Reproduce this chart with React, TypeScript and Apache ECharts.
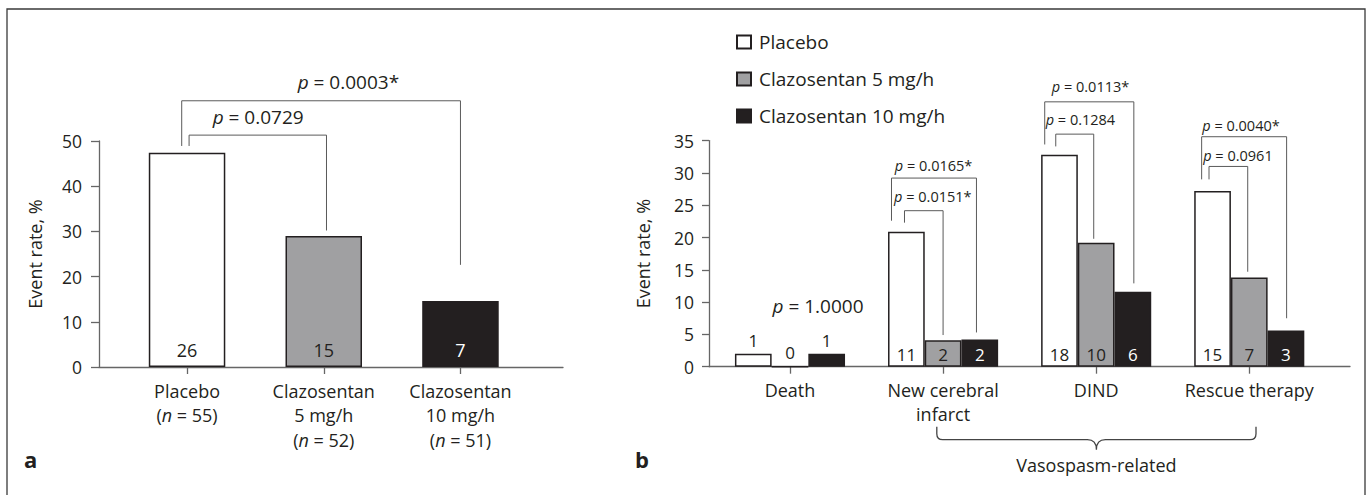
import React, { useEffect, useRef } from 'react';
import * as echarts from 'echarts';

// ---------- data ----------
const leftCategories = ['Placebo', 'Clazosentan\n5 mg/h', 'Clazosentan\n10 mg/h'];
const leftN = [55, 52, 51];
const leftValues = [47.4, 29.0, 14.6];
const leftCounts = [26, 15, 7];

const rightCategories = ['Death', 'New cerebral\ninfarct', 'DIND', 'Rescue therapy'];
const seriesNames = ['Placebo', 'Clazosentan 5 mg/h', 'Clazosentan 10 mg/h'];
const placeboValues = [2.0, 20.9, 32.8, 27.2];
const c5Values = [0, 4.1, 19.2, 13.8];
const c10Values = [2.0, 4.2, 11.6, 5.6];
const placeboCounts = [1, 11, 18, 15];
const c5Counts = [0, 2, 10, 7];
const c10Counts = [1, 2, 6, 3];

// brackets: [group, x1 offset, x2 offset, top, left-leg bottom, right-leg bottom] (data units)
const leftBrackets = [
  [0, 0.015, 1.02, 51.3, 48.9, 30.2],
  [0, -0.039, 2.0, 58.9, 48.9, 22.6],
];
// p labels: [x, y, p-value text]
const leftPLabels: [number, number, string][] = [
  [0.52, 55.3, '0.0729'],
  [1.18, 63.1, '0.0003*'],
];
const rightBrackets = [
  [1, -0.252, 0.0, 24.15, 22.3, 4.9],
  [1, -0.337, 0.218, 29.2, 22.6, 5.3],
  [2, -0.264, -0.016, 36.0, 34.1, 19.8],
  [2, -0.336, 0.246, 41.0, 34.4, 12.9],
  [3, -0.263, -0.01, 31.0, 29.0, 14.7],
  [3, -0.311, 0.244, 35.6, 29.0, 7.5],
];
const rightPLabels: [number, number, string][] = [
  [0.933, 26.3, '0.0151*'],
  [0.938, 31.2, '0.0165*'],
  [1.897, 38.3, '0.1284'],
  [1.963, 43.3, '0.0113*'],
  [2.926, 32.7, '0.0961'],
  [2.946, 37.3, '0.0040*'],
];
const deathPLabel: [number, number, string] = [0.183, 9.4, '1.0000'];
const vasospasmGroups = [1, 3];
const vasospasmCaption = 'Vasospasm-related';

// ---------- styles ----------
const FONT = 'Open Sans';
const INK = '#231f20';
const GRAY = '#a0a0a2';
const AXIS = '#666666';
const LINE = '#5a5a5a';

function pText(p: string, size: number) {
  return {
    text: `{i|p}{n| = ${p}}`,
    rich: {
      i: { fontStyle: 'italic', fontSize: size, fontFamily: FONT, fill: INK },
      n: { fontSize: size, fontFamily: FONT, fill: INK },
    },
    fontSize: size,
    fontFamily: FONT,
    fill: INK,
    align: 'center',
    verticalAlign: 'middle',
  };
}

function bracketSeries(brackets: number[][], axisIndex: number) {
  return {
    type: 'custom',
    xAxisIndex: axisIndex,
    yAxisIndex: axisIndex,
    clip: false,
    silent: true,
    data: brackets.map((b) => [b[0] + b[1], b[3]]),
    renderItem: (params: any, api: any) => {
      const b = brackets[params.dataIndex];
      const pts = [
        api.coord([b[0] + b[1], b[4]]),
        api.coord([b[0] + b[1], b[3]]),
        api.coord([b[0] + b[2], b[3]]),
        api.coord([b[0] + b[2], b[5]]),
      ];
      return {
        type: 'polyline',
        shape: { points: pts },
        style: { stroke: LINE, lineWidth: 1, fill: 'none' },
      };
    },
  };
}

function labelSeries(labels: [number, number, string][], axisIndex: number, size: number) {
  return {
    type: 'custom',
    xAxisIndex: axisIndex,
    yAxisIndex: axisIndex,
    clip: false,
    silent: true,
    data: labels.map((l) => [l[0], l[1]]),
    renderItem: (params: any, api: any) => {
      const l = labels[params.dataIndex];
      const pt = api.coord([l[0], l[1]]);
      return { type: 'text', x: pt[0], y: pt[1], style: pText(l[2], size) };
    },
  };
}

function buildOption() {
  const leftColors = ['#ffffff', GRAY, INK];
  const rightSets = [
    { values: placeboValues, counts: placeboCounts, color: '#ffffff', text: INK },
    { values: c5Values, counts: c5Counts, color: GRAY, text: INK },
    { values: c10Values, counts: c10Counts, color: INK, text: '#ffffff' },
  ];

  return {
    animation: false,
    backgroundColor: '#ffffff',
    textStyle: { fontFamily: FONT, color: INK },
    grid: [
      { left: 99, top: 141, width: 464, height: 226, outerBoundsMode: 'none' },
      { left: 709, top: 140.6, width: 641, height: 226.1, outerBoundsMode: 'none' },
    ],
    legend: {
      data: seriesNames,
      orient: 'vertical',
      left: 731,
      top: 27,
      icon: 'rect',
      itemWidth: 14,
      itemHeight: 13,
      itemGap: 17,
      selectedMode: false,
      textStyle: { fontSize: 19, color: INK, fontFamily: FONT, lineHeight: 20, padding: [0, 0, 0, 3] },
    },
    xAxis: [
      {
        type: 'value',
        gridIndex: 0,
        min: -0.644,
        max: 2.75,
        splitLine: { show: false },
        axisLine: { show: true, onZero: false, lineStyle: { color: AXIS, width: 1.3 } },
        axisTick: { show: true, customValues: [0, 1, 2], length: 7, lineStyle: { color: AXIS, width: 1.3 } },
        axisLabel: {
          show: true,
          customValues: [0, 1, 2],
          margin: 12,
          formatter: (v: number) => {
            const i = Math.round(v);
            const lines = leftCategories[i].split('\n').map((s) => `{a|${s}}`);
            lines.push(`{a|(}{i|n}{a| = ${leftN[i]})}`);
            return lines.join('\n');
          },
          rich: {
            a: { fontSize: 18, lineHeight: 24.3, color: INK, fontFamily: FONT },
            i: { fontSize: 18, lineHeight: 24.3, color: INK, fontFamily: FONT, fontStyle: 'italic' },
          },
        },
      },
      {
        type: 'value',
        gridIndex: 1,
        min: -0.529,
        max: 3.658,
        splitLine: { show: false },
        axisLine: { show: true, onZero: false, lineStyle: { color: AXIS, width: 1.3 } },
        axisTick: { show: true, customValues: [0, 1, 2, 3], length: 7, lineStyle: { color: AXIS, width: 1.3 } },
        axisLabel: {
          show: true,
          customValues: [0, 1, 2, 3],
          margin: 12,
          fontSize: 18,
          lineHeight: 23.5,
          color: INK,
          formatter: (v: number) => rightCategories[Math.round(v)],
        },
      },
    ],
    yAxis: [
      {
        type: 'value',
        gridIndex: 0,
        min: 0,
        max: 50,
        interval: 10,
        name: 'Event rate, %',
        nameLocation: 'middle',
        nameGap: 55,
        nameMoveOverlap: false,
        nameTextStyle: { fontSize: 18, color: INK, fontFamily: FONT },
        splitLine: { show: false },
        axisLine: { show: true, onZero: false, lineStyle: { color: AXIS, width: 1.3 } },
        axisTick: { show: true, length: 8, lineStyle: { color: AXIS, width: 1.3 } },
        axisLabel: { fontSize: 17.5, color: INK, margin: 17 },
      },
      {
        type: 'value',
        gridIndex: 1,
        min: 0,
        max: 35,
        interval: 5,
        name: 'Event rate, %',
        nameLocation: 'middle',
        nameGap: 57,
        nameMoveOverlap: false,
        nameTextStyle: { fontSize: 18, color: INK, fontFamily: FONT },
        splitLine: { show: false },
        axisLine: { show: true, onZero: false, lineStyle: { color: AXIS, width: 1.3 } },
        axisTick: { show: true, length: 7, lineStyle: { color: AXIS, width: 1.3 } },
        axisLabel: { fontSize: 17.5, color: INK, margin: 15 },
      },
    ],
    series: [
      {
        type: 'bar',
        name: 'Panel a',
        xAxisIndex: 0,
        yAxisIndex: 0,
        barWidth: 76.5,
        data: leftValues.map((v, i) => ({
          value: [i, v],
          itemStyle: { color: leftColors[i], borderColor: INK, borderWidth: 1.5 },
          label: { color: i === 2 ? '#ffffff' : INK },
        })),
        label: {
          show: true,
          position: 'insideBottom',
          distance: 8,
          fontSize: 18,
          fontFamily: FONT,
          formatter: (p: any) => String(leftCounts[p.dataIndex]),
        },
      },
      ...rightSets.map((s, k) => ({
        type: 'bar',
        name: seriesNames[k],
        xAxisIndex: 1,
        yAxisIndex: 1,
        barWidth: 36.7,
        barGap: '0%',
        itemStyle: { color: s.color, borderColor: INK, borderWidth: 1.5 },
        data: s.values.map((v, i) => ({
          value: [i, v],
          label: v < 3 ? { position: 'top', distance: 5, color: INK } : { position: 'insideBottom', distance: 4, color: s.text },
        })),
        label: {
          show: true,
          fontSize: 17,
          fontFamily: FONT,
          formatter: (p: any) => String(s.counts[p.dataIndex]),
        },
      })),
      bracketSeries(leftBrackets, 0),
      labelSeries(leftPLabels, 0, 19),
      bracketSeries(rightBrackets, 1),
      labelSeries(rightPLabels, 1, 14.5),
      labelSeries([deathPLabel], 1, 19),
      {
        type: 'custom',
        xAxisIndex: 1,
        yAxisIndex: 1,
        clip: false,
        silent: true,
        data: [[(vasospasmGroups[0] + vasospasmGroups[1]) / 2, 0]],
        renderItem: (params: any, api: any) => {
          const a = api.coord([vasospasmGroups[0] - 0.041, 0]);
          const b = api.coord([vasospasmGroups[1] + 0.044, 0]);
          const L = a[0];
          const R = b[0];
          const M = (L + R) / 2;
          const y0 = a[1];
          const yt = y0 + 60;
          const ym = y0 + 73;
          const yb = y0 + 83;
          const r = 6;
          const r2 = 9;
          const d = `M${L},${yt} L${L},${ym - r} Q${L},${ym} ${L + r},${ym} L${M - r2},${ym} Q${M},${ym} ${M},${yb} Q${M},${ym} ${M + r2},${ym} L${R - r},${ym} Q${R},${ym} ${R},${ym - r} L${R},${yt}`;
          return {
            type: 'group',
            children: [
              { type: 'path', shape: { pathData: d }, style: { stroke: '#444', lineWidth: 1.3, fill: 'none' } },
              {
                type: 'text',
                x: M,
                y: y0 + 98,
                style: { text: vasospasmCaption, fontSize: 18, fontFamily: FONT, fill: INK, align: 'center', verticalAlign: 'middle' },
              },
            ],
          };
        },
      },
    ],
    graphic: [
      {
        type: 'rect',
        silent: true,
        z: -10,
        shape: { x: 7, y: 9, width: 1358, height: 500 },
        style: { fill: 'none', stroke: '#3a3a3a', lineWidth: 1.3 },
      },
      {
        type: 'text',
        left: 24,
        top: 448,
        style: { text: 'a', fontSize: 22, fontWeight: 'bold', fontFamily: FONT, fill: INK },
      },
      {
        type: 'text',
        left: 635,
        top: 448,
        style: { text: 'b', fontSize: 22, fontWeight: 'bold', fontFamily: FONT, fill: INK },
      },
    ],
  };
}

export default function App() {
  const ref = useRef<HTMLDivElement>(null);
  useEffect(() => {
    const chart = echarts.init(ref.current as HTMLDivElement, null, { renderer: 'svg' });
    chart.setOption(buildOption() as any);
    return () => chart.dispose();
  }, []);
  return (
    <div
      ref={ref}
      style={{ position: 'absolute', left: 0, top: 0, width: 1367, height: 495 }}
    />
  );
}
